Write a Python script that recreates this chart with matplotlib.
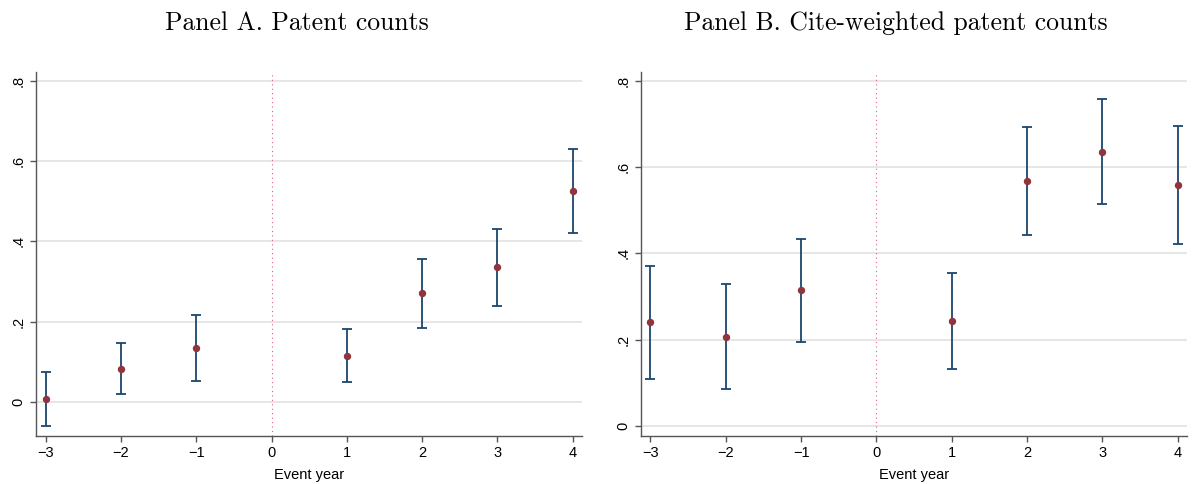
import numpy as np
from matplotlib import pyplot as plt

# Event-study estimates
event_years = [-3, -2, -1, 1, 2, 3, 4]

# Panel A: patent counts
coef_a  = [0.008, 0.084, 0.135, 0.116, 0.271, 0.336, 0.526]
upper_a = [0.076, 0.147, 0.217, 0.183, 0.357, 0.432, 0.631]
lower_a = [-0.059, 0.021, 0.052, 0.050, 0.185, 0.240, 0.422]

# Panel B: cite-weighted patent counts
coef_b  = [0.240, 0.207, 0.314, 0.243, 0.568, 0.636, 0.558]
upper_b = [0.370, 0.328, 0.433, 0.354, 0.693, 0.758, 0.695]
lower_b = [0.110, 0.086, 0.194, 0.133, 0.443, 0.514, 0.422]

titles = ['Panel A. Patent counts', 'Panel B. Cite-weighted patent counts']
x_ticks = [-3, -2, -1, 0, 1, 2, 3, 4]
x_tick_labels = ['\u22123', '\u22122', '\u22121', '0', '1', '2', '3', '4']
y_ticks = [0, 0.2, 0.4, 0.6, 0.8]
y_tick_labels = ['0', '.2', '.4', '.6', '.8']

plt.rcParams['font.family'] = 'Liberation Sans'

NAVY = '#1a476f'
MAROON = '#90353b'
VLINE = '#d8657c'


def draw_panel(ax, coef, lower, upper, ylim):
    x = np.array(event_years)
    coef = np.array(coef)
    yerr = np.vstack([coef - np.array(lower), np.array(upper) - coef])
    for y in y_ticks:
        ax.axhline(y, color='#e6e6e6', lw=1.4, zorder=0)
    ax.axvline(0, color=VLINE, lw=0.8, ls=(0, (1, 3)), zorder=1)
    ax.errorbar(x, coef, yerr=yerr, fmt='none', ecolor=NAVY, elinewidth=1.3,
                capsize=3.3, capthick=1.3, zorder=2)
    ax.plot(x, coef, 'o', color=MAROON, ms=4.3, zorder=3)

    ax.set_xlim(-3.13, 4.13)
    ax.set_ylim(*ylim)
    ax.set_xticks(x_ticks)
    ax.set_xticklabels(x_tick_labels, fontsize=10.5)
    ax.set_yticks(y_ticks)
    ax.set_yticklabels(y_tick_labels, fontsize=10.5, rotation=90, va='center')
    ax.set_xlabel('Event year', fontsize=10.5, labelpad=6)
    for side in ['top', 'right']:
        ax.spines[side].set_visible(False)
    for side in ['left', 'bottom']:
        ax.spines[side].set_color('#555555')
        ax.spines[side].set_linewidth(1.0)
    ax.tick_params(direction='out', length=4, color='#555555', width=1.0)


def main():
    fig = plt.figure(figsize=(11.92, 4.84), dpi=100)
    ax_a = fig.add_axes([0.0302, 0.0998, 0.4583, 0.7521])
    ax_b = fig.add_axes([0.5375, 0.0998, 0.4586, 0.7521])

    draw_panel(ax_a, coef_a, lower_a, upper_a, (-0.083, 0.822))
    draw_panel(ax_b, coef_b, lower_b, upper_b, (-0.0225, 0.821))

    for title, xc in zip(titles, [0.2487, 0.7516]):
        fig.text(xc, 0.953, title, ha='center', va='center', fontsize=18.5,
                 family='cmr10')

    fig.savefig('out.png', dpi=100)


if __name__ == "__main__":
    main()
